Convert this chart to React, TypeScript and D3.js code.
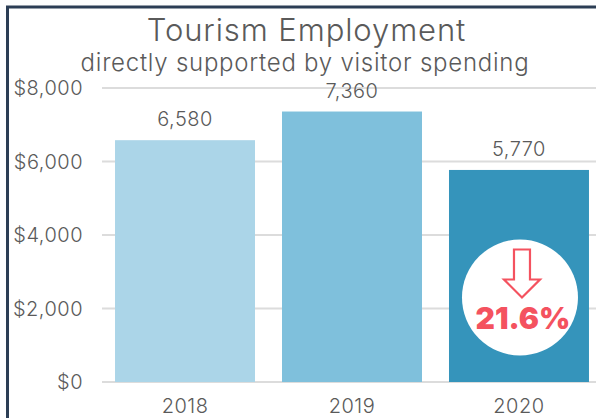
import React from 'react';
import * as d3 from 'd3';

const years = ['2018', '2019', '2020'];
const employment = [6580, 7360, 5770];
const barColors = ['#abd5e8', '#7fc0dc', '#3594bb'];
const yTicks = [0, 2000, 4000, 6000, 8000];
const changeLabel = '21.6%';

const width = 596;
const height = 418;
const font = 'Inter, Lato, sans-serif';
const textColor = '#5a5a5a';
const red = '#f4525f';

export default function App() {
  const x = d3.scaleBand().domain(years).range([102, 602]).paddingInner(0.1617).paddingOuter(0.078);
  const y = d3.scaleLinear().domain([0, 8000]).range([382, 88]);
  const format = d3.format(',');

  // circle sits inside the last bar, around the $2,000 gridline
  const cx = (x('2020') as number) + x.bandwidth() / 2 + 1;
  const cy = y(2000) - 11;

  return (
    <svg width={width} height={height} style={{ position: 'absolute', left: 0, top: 0, background: '#fff' }}>
      <path d={`M7.5,${height} V7 H${width}`} fill="none" stroke="#2c3e55" strokeWidth={3} />

      <text x={306.5} y={41} textAnchor="middle" fontFamily={font} fontSize={31} fontWeight={300} letterSpacing={0.9} fill={textColor}>
        Tourism Employment
      </text>
      <text x={305} y={71} textAnchor="middle" fontFamily={font} fontSize={24} fontWeight={300} letterSpacing={0.75} fill={textColor}>
        directly supported by visitor spending
      </text>

      {yTicks.map(t => (
        <g key={t}>
          <line x1={102} x2={width} y1={y(t)} y2={y(t)} stroke="#dcdcdc" strokeWidth={2} />
          <text x={83} y={y(t)} dy="0.36em" textAnchor="end" fontFamily={font} fontSize={20} fontWeight={300} letterSpacing={0.5} fill={textColor}>
            {'$' + format(t)}
          </text>
        </g>
      ))}

      {years.map((yr, i) => (
        <g key={yr}>
          <rect x={x(yr)} y={y(employment[i])} width={x.bandwidth()} height={y(0) - y(employment[i])} fill={barColors[i]} />
          <text
            x={(x(yr) as number) + x.bandwidth() / 2}
            y={y(employment[i]) - 14}
            textAnchor="middle"
            fontFamily={font}
            fontSize={20}
            fontWeight={300}
            letterSpacing={0.5}
            fill={textColor}
          >
            {format(employment[i])}
          </text>
          <text
            x={(x(yr) as number) + x.bandwidth() / 2}
            y={413}
            textAnchor="middle"
            fontFamily={font}
            fontSize={20}
            fontWeight={300}
            letterSpacing={0.5}
            fill={textColor}
          >
            {yr}
          </text>
        </g>
      ))}

      <circle cx={cx} cy={cy} r={58} fill="#fff" />
      <path
        d={`M${cx - 6},${cy - 48} h16 v30 h10 l-18,18 l-18,-18 h10 z`}
        fill="#fff"
        stroke={red}
        strokeWidth={2.2}
      />
      <text x={cx + 3} y={cy + 31} textAnchor="middle" fontFamily={font} fontSize={30} fontWeight={900} fill={red}>
        {changeLabel}
      </text>
    </svg>
  );
}
